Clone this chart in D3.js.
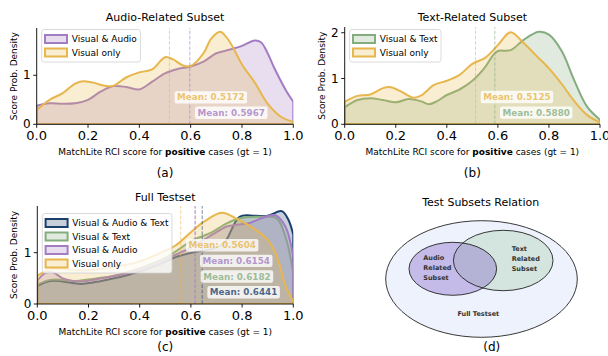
<!DOCTYPE html>
<html><head><meta charset="utf-8">
<script src="https://cdn.jsdelivr.net/npm/d3@7"></script>
<style>body{margin:0;background:#fff} svg{display:block;font-family:"DejaVu Sans",sans-serif}</style>
</head><body><svg id="c" width="608" height="356"></svg>
<script>
// ---------- data ----------
const xTickValues = [0, 0.2, 0.4, 0.6, 0.8, 1.0];
const yTicksA = [0, 1], yTicksB = [0, 1, 2], yTicksC = [0, 1];

// Panel (a) Audio-Related Subset
const aVAx = [0,0.05,0.1,0.15,0.2,0.25,0.3,0.35,0.4,0.45,0.5,0.55,0.6,0.65,0.7,0.75,0.8,0.85,0.875,0.9,0.925,0.95,0.975,1.0];
const aVAy = [0.38,0.43,0.42,0.43,0.5,0.67,0.78,0.76,0.71,0.87,1.04,1.13,1.18,1.28,1.45,1.52,1.6,1.71,1.67,1.45,1.16,0.9,0.66,0.46];
const aVOx = [0,0.05,0.1,0.15,0.18,0.22,0.27,0.3,0.35,0.4,0.45,0.5,0.53,0.57,0.6,0.65,0.68,0.715,0.75,0.8,0.85,0.9,0.95,1.0];
const aVOy = [0.29,0.5,0.63,0.83,0.88,0.85,0.78,0.79,0.96,1.06,1.12,1.37,1.33,1.2,1.19,1.45,1.75,1.89,1.7,1.22,0.85,0.42,0.16,0.05];
const meanA = {va: 0.5967, vo: 0.5172};

// Panel (b) Text-Related Subset
const bVTx = [0,0.05,0.1,0.15,0.2,0.25,0.3,0.33,0.36,0.4,0.45,0.5,0.55,0.58,0.6,0.65,0.7,0.76,0.8,0.85,0.9,0.95,1.0];
const bVTy = [0.37,0.53,0.57,0.53,0.48,0.55,0.5,0.44,0.5,0.64,0.76,0.95,1.25,1.5,1.6,1.62,1.84,2.02,1.96,1.6,0.95,0.38,0.1];
const bVOx = [0,0.05,0.1,0.15,0.18,0.22,0.27,0.3,0.35,0.4,0.45,0.5,0.55,0.6,0.65,0.7,0.75,0.8,0.85,0.9,0.95,1.0];
const bVOy = [0.49,0.62,0.65,0.79,0.81,0.72,0.58,0.63,0.86,0.95,1.08,1.32,1.45,1.73,2.01,1.78,1.5,1.22,0.88,0.5,0.2,0.04];
const meanB = {vt: 0.5880, vo: 0.5125};

// Panel (c) Full Testset
const cVATx = [0,0.05,0.1,0.17,0.25,0.35,0.45,0.55,0.62,0.68,0.73,0.79,0.85,0.9,0.955,0.98,1.0];
const cVATy = [0.35,0.45,0.44,0.39,0.45,0.56,0.72,0.93,1.02,1.07,1.19,1.7,1.72,1.72,1.81,1.65,1.35];
const cVTx = [0,0.05,0.1,0.15,0.2,0.3,0.4,0.5,0.53,0.61,0.675,0.74,0.79,0.87,0.935,0.97,1.0];
const cVTy = [0.38,0.47,0.47,0.45,0.48,0.55,0.7,0.9,0.99,1.25,1.38,1.57,1.67,1.7,1.67,1.3,0.6];
const cVAx = [0,0.03,0.06,0.1,0.17,0.25,0.35,0.45,0.54,0.6,0.65,0.7,0.74,0.79,0.83,0.88,0.93,0.97,1.0];
const cVAy = [0.45,0.6,0.62,0.5,0.44,0.5,0.6,0.75,0.96,1.1,1.25,1.4,1.51,1.55,1.58,1.68,1.73,1.5,0.9];
const cVOx = [0,0.05,0.1,0.15,0.2,0.3,0.4,0.5,0.54,0.6,0.65,0.72,0.78,0.82,0.86,0.9,0.93,0.95,0.97,1.0];
const cVOy = [0.55,0.68,0.68,0.66,0.66,0.72,0.83,1.04,1.14,1.4,1.6,1.78,1.66,1.55,1.42,1.25,1.0,0.7,0.35,0.05];
const meanC = {vat: 0.6441, vt: 0.6182, va: 0.6154, vo: 0.5604};

const seriesNames = {vat: "Visual & Audio & Text", vt: "Visual & Text", va: "Visual & Audio", vo: "Visual only"};
const COLORS = {vat: "#1B3F6D", vt: "#84AD7F", va: "#A27DC4", vo: "#E7B64C"};

// ---------- drawing ----------
const svg = d3.select("#c");
const defs = svg.append("defs");
const fmtTick = d3.format(".1f");
const fmtMean = d3.format(".4f");

function drawPanel(p) {
  const x = d3.scaleLinear().domain([0, 1]).range([p.x0, p.x1]);
  const y = d3.scaleLinear().domain([0, p.ymax]).range([p.yb, p.yt]);
  const cid = "clip" + p.id;
  defs.append("clipPath").attr("id", cid).append("rect")
    .attr("x", p.x0).attr("y", p.yt).attr("width", p.x1 - p.x0).attr("height", p.yb - p.yt);
  const area = d3.area().x(d => x(d[0])).y0(y(0)).y1(d => y(d[1])).curve(d3.curveCatmullRom.alpha(0.5));
  const g = svg.append("g");
  const pg = g.append("g").attr("clip-path", `url(#${cid})`);
  p.series.forEach(s => {
    const pts = s.xs.map((v, i) => [v, s.ys[i]]);
    pg.append("path").attr("d", area(pts) + "Z")
      .attr("fill", s.color).attr("fill-opacity", 0.25)
      .attr("stroke", s.color).attr("stroke-width", 2).attr("stroke-linejoin", "round");
  });
  // mean lines
  p.series.forEach(s => {
    pg.append("line").attr("x1", x(s.mean)).attr("x2", x(s.mean))
      .attr("y1", y(0)).attr("y2", p.yt)
      .attr("stroke", s.color).attr("stroke-opacity", 0.6).attr("stroke-width", 1)
      .attr("stroke-dasharray", "3.7,1.6");
  });
  // spines
  g.append("line").attr("x1", p.x0).attr("x2", p.x0).attr("y1", p.yb).attr("y2", p.yt).attr("stroke", "#000").attr("stroke-width", 0.9);
  g.append("line").attr("x1", p.x0).attr("x2", p.x1).attr("y1", p.yb).attr("y2", p.yb).attr("stroke", "#000").attr("stroke-width", 0.9);
  // x ticks
  xTickValues.forEach(t => {
    g.append("line").attr("x1", x(t)).attr("x2", x(t)).attr("y1", p.yb).attr("y2", p.yb + 3.5).attr("stroke", "#000").attr("stroke-width", 0.9);
    g.append("text").attr("x", x(t)).attr("y", p.yb + 11.5).attr("text-anchor", "middle")
      .attr("dominant-baseline", "central").attr("font-size", 13).attr("fill", "#000").text(fmtTick(t));
  });
  p.yTicks.forEach(t => {
    g.append("line").attr("x1", p.x0 - 3.5).attr("x2", p.x0).attr("y1", y(t)).attr("y2", y(t)).attr("stroke", "#000").attr("stroke-width", 0.9);
    g.append("text").attr("x", p.x0 - 6).attr("y", y(t)).attr("text-anchor", "end")
      .attr("dominant-baseline", "central").attr("font-size", 12).attr("fill", "#000").text(t);
  });
  // axis labels
  const xl = g.append("text").attr("x", (p.x0 + p.x1) / 2).attr("y", p.yb + 27.5).attr("text-anchor", "middle")
    .attr("dominant-baseline", "central").attr("font-size", 9).attr("fill", "#000");
  xl.append("tspan").text("MatchLite RCI score for ");
  xl.append("tspan").attr("font-weight", "bold").text("positive");
  xl.append("tspan").text(" cases (gt = 1)");
  g.append("text").attr("transform", `translate(${p.ylabelX},${(p.yb + p.yt) / 2}) rotate(-90)`)
    .attr("text-anchor", "middle").attr("dominant-baseline", "central").attr("font-size", 9).attr("fill", "#000")
    .text("Score Prob. Density");
  g.append("text").attr("x", (p.x0 + p.x1) / 2).attr("y", p.titleY).attr("text-anchor", "middle")
    .attr("dominant-baseline", "central").attr("font-size", 11).attr("fill", "#000").text(p.title);
  g.append("text").attr("x", (p.x0 + p.x1) / 2).attr("y", p.subY).attr("text-anchor", "middle")
    .attr("dominant-baseline", "central").attr("font-size", 12).attr("fill", "#000").text(p.sub);
  // mean labels
  p.series.forEach(s => {
    const ty = p.yb - (0.12 + 0.16 * s.row) * (p.yb - p.yt);
    const lg = g.append("g");
    const rect = lg.append("rect");
    const t = lg.append("text").attr("x", x(s.mean + 0.03)).attr("y", ty)
      .attr("dominant-baseline", "central").attr("font-size", 8.8).attr("font-weight", "bold")
      .attr("fill", s.color).attr("fill-opacity", 0.8).text("Mean: " + fmtMean(s.mean));
    const bb = t.node().getBBox();
    rect.attr("x", bb.x - 2.5).attr("y", bb.y - 1.2).attr("width", bb.width + 5).attr("height", bb.height + 2.4)
      .attr("rx", 2).attr("fill", "#fff").attr("fill-opacity", 0.8);
  });
  // legend
  const lgd = g.append("g");
  const box = lgd.append("rect");
  let maxW = 0;
  const legendSeries = p.legendOrder.map(k => p.series.find(s => s.key === k));
  legendSeries.forEach((s, i) => {
    const ry = p.legY + i * 13.5;
    lgd.append("rect").attr("x", p.x0 + 8.3).attr("y", ry - 4).attr("width", 22).attr("height", 8)
      .attr("fill", s.color).attr("fill-opacity", 0.25).attr("stroke", s.color).attr("stroke-width", 2);
    const tt = lgd.append("text").attr("x", p.x0 + 35).attr("y", ry).attr("dominant-baseline", "central")
      .attr("font-size", 9).attr("fill", "#000").text(s.name);
    maxW = Math.max(maxW, tt.node().getComputedTextLength());
  });
  box.attr("x", p.x0 + 5).attr("y", p.legY - 9.5).attr("width", 30 + maxW + 3.5)
    .attr("height", (legendSeries.length - 1) * 13.5 + 19).attr("rx", 2.5)
    .attr("fill", "#fff").attr("fill-opacity", 0.8).attr("stroke", "#d0d0d0").attr("stroke-width", 0.8);
}

function mk(key, xs, ys, mean, row) {
  return {key, name: seriesNames[key], color: COLORS[key], xs, ys, mean, row};
}

drawPanel({id: "a", x0: 36.7, x1: 293.3, yb: 124.3, yt: 28, ymax: 1.965, yTicks: yTicksA,
  title: "Audio-Related Subset", titleY: 17.3, sub: "(a)", subY: 172.7, ylabelX: 14, legY: 39,
  legendOrder: ["va", "vo"],
  series: [mk("va", aVAx, aVAy, meanA.va, 0), mk("vo", aVOx, aVOy, meanA.vo, 1)]});

drawPanel({id: "b", x0: 344.7, x1: 600, yb: 124.3, yt: 27, ymax: 2.125, yTicks: yTicksB,
  title: "Text-Related Subset", titleY: 17, sub: "(b)", subY: 172.7, ylabelX: 322.3, legY: 39,
  legendOrder: ["vt", "vo"],
  series: [mk("vt", bVTx, bVTy, meanB.vt, 0), mk("vo", bVOx, bVOy, meanB.vo, 1)]});

drawPanel({id: "c", x0: 37.3, x1: 293.3, yb: 304, yt: 206, ymax: 1.91, yTicks: yTicksC,
  title: "Full Testset", titleY: 197.3, sub: "(c)", subY: 347.3, ylabelX: 14, legY: 223,
  legendOrder: ["vat", "vt", "va", "vo"],
  series: [mk("vat", cVATx, cVATy, meanC.vat, 0), mk("vt", cVTx, cVTy, meanC.vt, 1),
           mk("va", cVAx, cVAy, meanC.va, 2), mk("vo", cVOx, cVOy, meanC.vo, 3)]});

// ---------- panel (d): Venn ----------
const vennSets = [
  {name: "Full Testset", cx: 481.5, cy: 279, rx: 95.8, ry: 58.3, fill: "rgb(238,242,252)", op: 1},
  {name: "Text Related Subset", cx: 503.2, cy: 260.5, rx: 49.8, ry: 30.2, fill: "rgb(170,209,177)", op: 0.4},
  {name: "Audio Related Subset", cx: 452.8, cy: 268.8, rx: 43.8, ry: 26.5, fill: "rgb(130,97,200)", op: 0.38}
];
const vg = svg.append("g");
vennSets.forEach(s => {
  vg.append("ellipse").attr("cx", s.cx).attr("cy", s.cy).attr("rx", s.rx).attr("ry", s.ry)
    .attr("fill", s.fill).attr("fill-opacity", s.op);
});
vennSets.forEach(s => {
  vg.append("ellipse").attr("cx", s.cx).attr("cy", s.cy).attr("rx", s.rx).attr("ry", s.ry)
    .attr("fill", "none").attr("stroke", "#222").attr("stroke-width", 0.9);
});
function vtext(lines, x, y0, anchor) {
  lines.forEach((l, i) => vg.append("text").attr("x", x).attr("y", y0 + i * 10)
    .attr("text-anchor", anchor).attr("dominant-baseline", "central").attr("font-size", 6.5)
    .attr("font-weight", "bold").attr("fill", "#333").text(l));
}
vtext(["Audio", "Related", "Subset"], 423.3, 258, "start");
vtext(["Text", "Related", "Subset"], 511.7, 248.7, "start");
vtext(["Full Testset"], 478.3, 314, "middle");
vg.append("text").attr("x", 480.7).attr("y", 202).attr("text-anchor", "middle").attr("dominant-baseline", "central")
  .attr("font-size", 11).attr("fill", "#000").text("Test Subsets Relation");
vg.append("text").attr("x", 491.7).attr("y", 347.3).attr("text-anchor", "middle").attr("dominant-baseline", "central")
  .attr("font-size", 12).attr("fill", "#000").text("(d)");
</script></body></html>
